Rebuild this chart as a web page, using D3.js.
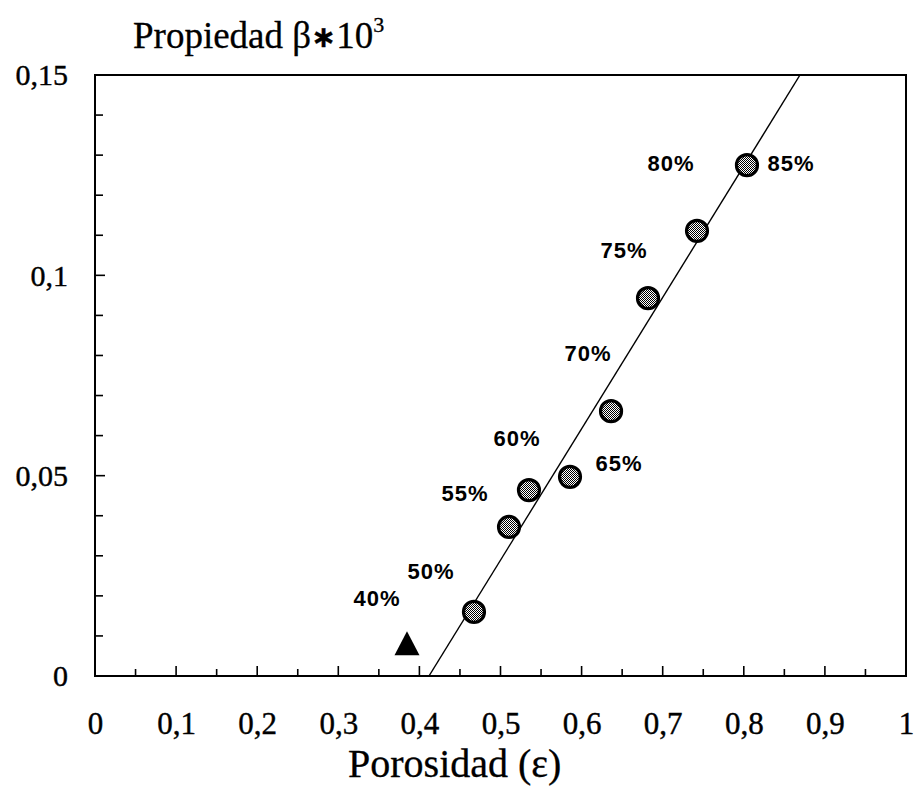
<!DOCTYPE html>
<html>
<head>
<meta charset="utf-8">
<script src="https://cdn.jsdelivr.net/npm/d3@7"></script>
<style>
  html, body { margin: 0; padding: 0; background: #fff; }
  svg { display: block; }
</style>
</head>
<body>
<svg id="chart" width="914" height="790"></svg>
<script>
// Porosity (x) against property beta*10^3 (y)
const porosity  = [0.4673, 0.5105, 0.5351, 0.5857, 0.6363, 0.6819, 0.7423, 0.8039];
const beta      = [0.0160, 0.0372, 0.0464, 0.0497, 0.0661, 0.0943, 0.1111, 0.1275];
const pointTags = ["50%", "55%", "60%", "65%", "70%", "75%", "80%", "85%"];

// Separate reference sample drawn as a triangle
const refPorosity = [0.3847];
const refBeta     = [0.0072];
const refTags     = ["40%"];

// Fitted straight line, given by its two end points
const fitX = [0.4118, 0.8693];
const fitY = [0, 0.15];

const xTickValues = [0, 0.1, 0.2, 0.3, 0.4, 0.5, 0.6, 0.7, 0.8, 0.9, 1];
const xTickLabels = ["0", "0,1", "0,2", "0,3", "0,4", "0,5", "0,6", "0,7", "0,8", "0,9", "1"];
const yTickValues = [0, 0.05, 0.1, 0.15];
const yTickLabels = ["0", "0,05", "0,1", "0,15"];

// Label placement relative to each marker (pixels)
const tagOffsets    = [[-43, -41], [-44, -34], [-12, -52], [49, -14], [-23, -58], [-24, -48], [-26, -68], [44, -2]];
const refTagOffsets = [[-30, -49]];

const svg = d3.select("#chart");
const plotL = 95, plotR = 906, plotT = 75, plotB = 676;

const x = d3.scaleLinear().domain([0, 1]).range([plotL, plotR]);
const y = d3.scaleLinear().domain([0, 0.15]).range([plotB, plotT]);

const serif = "'Liberation Serif', 'Times New Roman', serif";
const sans = "'Liberation Sans', Arial, Helvetica, sans-serif";

// Dithered grey fill for the circles
const defs = svg.append("defs");
const pat = defs.append("pattern").attr("id", "dither")
  .attr("width", 2).attr("height", 2).attr("patternUnits", "userSpaceOnUse");
pat.append("rect").attr("width", 2).attr("height", 2).attr("fill", "#fff");
pat.append("rect").attr("x", 0).attr("y", 0).attr("width", 1).attr("height", 1).attr("fill", "#000");
pat.append("rect").attr("x", 1).attr("y", 1).attr("width", 1).attr("height", 1).attr("fill", "#000");

const clip = defs.append("clipPath").attr("id", "plotClip");
clip.append("rect").attr("x", plotL).attr("y", plotT).attr("width", plotR - plotL).attr("height", plotB - plotT);

// Frame
svg.append("rect")
  .attr("x", plotL).attr("y", plotT)
  .attr("width", plotR - plotL).attr("height", plotB - plotT)
  .attr("fill", "none").attr("stroke", "#000").attr("stroke-width", 2);

// Inward ticks on the x axis (every 0.05)
const xMinor = d3.range(1, 20).map(i => i * 0.05);
svg.append("g").selectAll("line").data(xMinor).join("line")
  .attr("x1", d => x(d)).attr("x2", d => x(d))
  .attr("y1", plotB).attr("y2", (d, i) => plotB - (i % 2 === 1 ? 10 : 7))
  .attr("stroke", "#000").attr("stroke-width", 1.6);

// Inward ticks on the y axis (every 0.01)
const yMinor = d3.range(1, 15).map(i => i * 0.01);
svg.append("g").selectAll("line").data(yMinor).join("line")
  .attr("x1", plotL).attr("x2", (d, i) => plotL + ((i + 1) % 5 === 0 ? 10 : 8))
  .attr("y1", d => y(d)).attr("y2", d => y(d))
  .attr("stroke", "#000").attr("stroke-width", 1.6);

// Tick labels
const xAxis = d3.axisBottom(x).tickValues(xTickValues)
  .tickFormat((d, i) => xTickLabels[i]).tickSize(0).tickPadding(0);
const gx = svg.append("g").attr("transform", `translate(0,${plotB})`).call(xAxis);
gx.select(".domain").remove();
gx.selectAll("text")
  .attr("y", 58).attr("dy", null)
  .attr("font-family", serif).attr("font-size", 31).attr("fill", "#000")
  .attr("stroke", "#000").attr("stroke-width", 0.4);

const yAxis = d3.axisLeft(y).tickValues(yTickValues)
  .tickFormat((d, i) => yTickLabels[i]).tickSize(0).tickPadding(0);
const gy = svg.append("g").attr("transform", `translate(${plotL},0)`).call(yAxis);
gy.select(".domain").remove();
gy.selectAll("text")
  .attr("x", -27).attr("dy", "0.33em")
  .attr("font-family", serif).attr("font-size", 30).attr("fill", "#000")
  .attr("stroke", "#000").attr("stroke-width", 0.4);

// Fitted line
svg.append("line")
  .attr("clip-path", "url(#plotClip)")
  .attr("x1", x(fitX[0])).attr("y1", y(fitY[0]))
  .attr("x2", x(fitX[1])).attr("y2", y(fitY[1]))
  .attr("stroke", "#000").attr("stroke-width", 1.4);

// Circles
const pts = porosity.map((p, i) => ({ x: p, y: beta[i], tag: pointTags[i], off: tagOffsets[i] }));
svg.append("g").selectAll("circle").data(pts).join("circle")
  .attr("cx", d => x(d.x)).attr("cy", d => y(d.y)).attr("r", 10.5)
  .attr("fill", "url(#dither)").attr("stroke", "#000").attr("stroke-width", 3.2);

svg.append("g").selectAll("text").data(pts).join("text")
  .attr("x", d => x(d.x) + d.off[0]).attr("y", d => y(d.y) + d.off[1])
  .attr("dy", "0.36em").attr("text-anchor", "middle")
  .attr("font-family", sans).attr("font-weight", "bold").attr("font-size", 22)
  .attr("letter-spacing", 1)
  .attr("fill", "#000").text(d => d.tag);

// Triangle marker
const refs = refPorosity.map((p, i) => ({ x: p, y: refBeta[i], tag: refTags[i], off: refTagOffsets[i] }));
svg.append("g").selectAll("path").data(refs).join("path")
  .attr("transform", d => `translate(${x(d.x)},${y(d.y)})`)
  .attr("d", "M0,-16L12.5,8L-12.5,8Z")
  .attr("fill", "#000");

svg.append("g").selectAll("text").data(refs).join("text")
  .attr("x", d => x(d.x) + d.off[0]).attr("y", d => y(d.y) + d.off[1])
  .attr("dy", "0.36em").attr("text-anchor", "middle")
  .attr("font-family", sans).attr("font-weight", "bold").attr("font-size", 22)
  .attr("letter-spacing", 1)
  .attr("fill", "#000").text(d => d.tag);

// Axis titles
const yTitle = svg.append("text")
  .attr("x", 133).attr("y", 48)
  .attr("font-family", serif).attr("font-size", 37).attr("fill", "#000")
  .attr("stroke", "#000").attr("stroke-width", 0.3);
yTitle.append("tspan").text("Propiedad ");
yTitle.append("tspan").text("β");
yTitle.append("tspan").attr("font-family", "'DejaVu Sans', sans-serif").attr("font-weight", "bold")
  .attr("font-size", 30).attr("dy", -1).text("∗");
yTitle.append("tspan").attr("dy", 1).text("10");
yTitle.append("tspan").attr("font-size", 22).attr("dy", -16).text("3");

svg.append("text")
  .attr("x", 348).attr("y", 777)
  .attr("font-family", serif).attr("font-size", 40).attr("fill", "#000")
  .attr("stroke", "#000").attr("stroke-width", 0.3)
  .text("Porosidad (ε)");
</script>
</body>
</html>
